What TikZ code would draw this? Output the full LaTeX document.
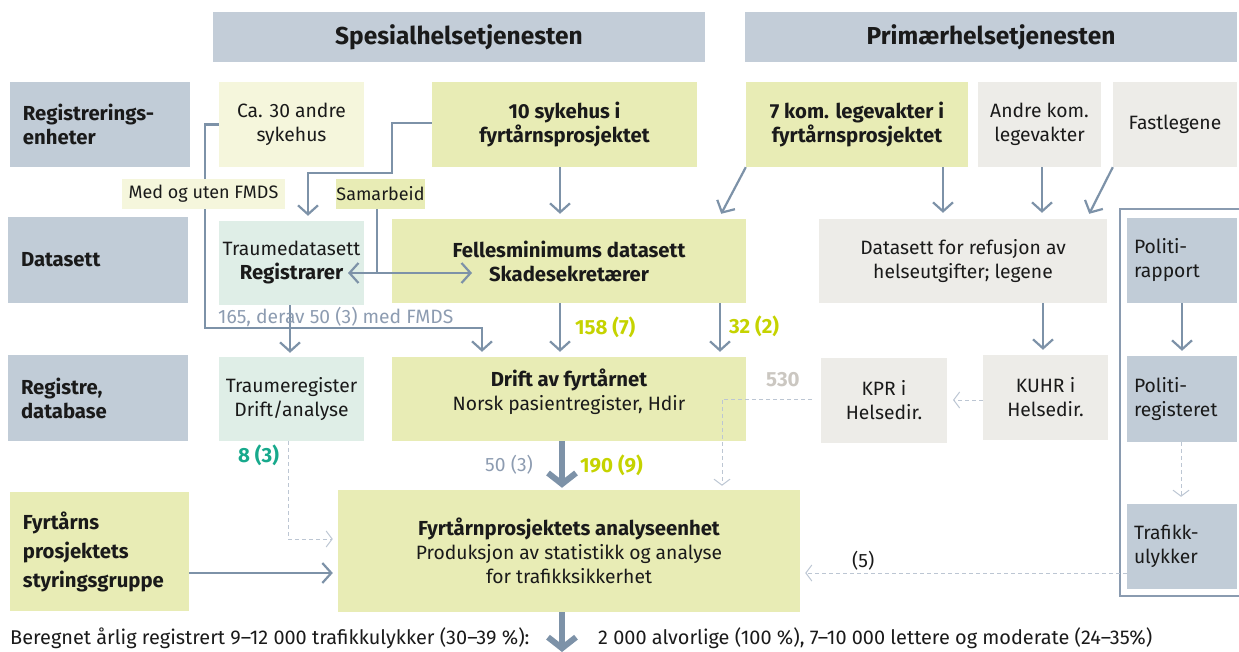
\documentclass[tikz,border=0pt]{standalone}
\usepackage{fontspec}
\setmainfont{Fira Sans}
\usetikzlibrary{arrows.meta,calc}
\definecolor{hdr}{HTML}{C3CDD8}
\definecolor{lab}{HTML}{C1CCD7}
\definecolor{yg}{HTML}{E8ECB5}
\definecolor{ly}{HTML}{F5F6DC}
\definecolor{mint}{HTML}{DFEEE7}
\definecolor{gr}{HTML}{EDECE8}
\definecolor{arc}{HTML}{7D92A8}
\definecolor{frm}{HTML}{8A9BB0}
\definecolor{dsh}{HTML}{BCC6D3}
\definecolor{lime}{HTML}{C5D300}
\definecolor{tealc}{HTML}{17A98C}
\definecolor{lgray}{HTML}{CBC7C1}
\definecolor{gb}{HTML}{8D9CB1}
\definecolor{txt}{HTML}{1A1A1A}
\newcommand\nf{\fontsize{19.3}{24}\selectfont}
\newcommand\btf{\fontsize{19.9}{24}\selectfont}
\newcommand\bff{\fontsize{20.3}{24}\selectfont\bfseries}
\newcommand\smf{\fontsize{18}{20}\selectfont}
\newcommand\bx[7]{\node[box,#6,minimum width={#4-#2},minimum height={#5-#3}] (#1) at ({(#2+#4)/2},{(#3+#5)/2}) {#7};}
\begin{document}
\begin{tikzpicture}[x=1pt,y=-1pt,
  box/.style={rectangle,inner sep=0pt,align=center,font=\nf,text=txt},
  lbox/.style={rectangle,inner ysep=0pt,fill=lab,align=left,font=\bff,text=txt},
  arr/.style={draw=arc,line width=2.2pt,-{Straight Barb[length=9pt,width=20pt]}},
  darr/.style={draw=arc,line width=2.2pt,{Straight Barb[length=9pt,width=20pt]}-{Straight Barb[length=9pt,width=20pt]}},
  line/.style={draw=arc,line width=2.2pt},
  thick arr/.style={draw=arc,line width=6pt,-{Straight Barb[length=11pt,width=28pt]}},
  dash arr/.style={draw=dsh,line width=1pt,dash pattern=on 4pt off 3pt,-{Straight Barb[length=6pt,width=16pt]}},
  num/.style={anchor=west,inner sep=0pt,font=\fontsize{20.5}{24}\selectfont\bfseries}]
\useasboundingbox (0,0) rectangle (1239,652);
% headers
\bx{hs}{213}{12}{705}{62}{fill=hdr,font=\fontsize{24.5}{28}\selectfont\bfseries}{Spesialhelsetjenesten}
\bx{hp}{745}{12}{1237}{62}{fill=hdr,font=\fontsize{24.5}{28}\selectfont\bfseries}{Primærhelsetjenesten}
% row labels
\node[lbox,inner xsep=13pt,text width=154pt,minimum height=85pt] (rl1) at (100,124.5) {Registrerings-\\enheter};
\node[lbox,inner xsep=13pt,text width=154pt,minimum height=86pt] (rl2) at (98,260) {Datasett};
\node[lbox,inner xsep=13pt,text width=154pt,minimum height=86pt] (rl3) at (98,398) {Registre,\\database};
\node[lbox,fill=yg,inner xsep=13pt,text width=153pt,minimum height=119pt,font=\fontsize{20.3}{29}\selectfont\bfseries] (rl4) at (99.5,551.5) {Fyrtårns\\prosjektets\\styringsgruppe};
% row 1
\bx{ca30}{219}{82}{364}{167}{fill=ly}{Ca. 30 andre\\sykehus}
\bx{sh10}{432}{82}{697}{167}{fill=yg,font=\bff}{10 sykehus i\\fyrtårnsprosjektet}
\bx{lv7}{746}{82}{968}{167}{fill=yg,font=\bff}{7 kom. legevakter i\\fyrtårnsprosjektet}
\bx{alv}{978}{82}{1101}{167}{fill=gr}{Andre kom.\\legevakter}
\bx{fl}{1113}{82}{1237}{167}{fill=gr}{Fastlegene}
\bx{sam}{336}{179}{425}{209}{fill=yg,font=\smf}{Samarbeid}
% row 2
\bx{trd}{219}{221}{364}{305}{fill=mint}{Traumedatasett\\{\bff Registrarer}}
\bx{fmd}{392}{219}{746}{303}{fill=yg,font=\bff}{Fellesminimums datasett\\Skadesekretærer}
\bx{ref}{819}{219}{1107}{303}{fill=gr}{Datasett for refusjon av\\helseutgifter; legene}
\node[lbox,font=\nf,inner xsep=7pt,text width=96pt,minimum height=85pt] (pr) at (1182,260.5) {Politi-\\rapport};
% row 3
\bx{tr}{219}{357}{364}{441}{fill=mint}{Traumeregister\\Drift/analyse}
\bx{drift}{392}{357}{746}{441}{fill=yg}{}
\node[box] (driftT) at (569,392) {{\bff Drift av fyrtårnet}\\Norsk pasientregister, Hdir};
\bx{kpr}{821}{358}{947}{443}{fill=gr}{KPR i\\Helsedir.}
\bx{kuhr}{983}{355}{1108}{440}{fill=gr}{KUHR i\\Helsedir.}
\node[lbox,font=\nf,inner xsep=7pt,text width=96pt,minimum height=86pt] (preg) at (1182,399) {Politi-\\registeret};
% row 4
\bx{ae}{338}{490}{800}{612}{fill=yg}{{\bff Fyrtårnprosjektets analyseenhet}\\Produksjon av statistikk og analyse\\for trafikksikkerhet}
\node[lbox,font=\nf,inner xsep=7pt,text width=96pt,minimum height=85pt] (tu) at (1182,546.5) {Trafikk-\\ulykker};
% police frame
\draw[frm,line width=1.2pt] (1245,209) -| (1120,596) -- (1245,596);
% connectors
\coordinate (c1a) at (205,124.5);
\coordinate (c1b) at (205,328);
\coordinate (c1c) at (482,328);
\draw[arr,shorten >=5pt] (ca30.west) -- (c1a) -- (c1b) -- (c1c) -- (c1c |- drift.north);
\coordinate (c2a) at (392,123);
\coordinate (c2b) at (392,173);
\coordinate (c2c) at (308,173);
\draw[arr,shorten >=5pt] (sh10.west |- c2a) -- (c2a) -- (c2b) -- (c2c) -- (c2c |- trd.north);
\draw[arr,shorten >=5pt] (560,0 |- sh10.south) -- (560,0 |- fmd.north);
\draw[arr] (lv7.south west) -- ($(fmd.north east)+(-25,-5)$);
\draw[arr,shorten >=6pt] (943,0 |- lv7.south) -- (943,0 |- ref.north);
\draw[arr,shorten >=6pt] (1042,0 |- alv.south) -- (1042,0 |- ref.north);
\draw[arr] (fl.south west) -- ($(ref.north east)+(-18,-5)$);
\coordinate (sL) at (348,273);
\coordinate (sR) at (472,273);
\draw[line] (377,0 |- sam.south) -- (377,273);
\draw[darr] (sL) -- (sR);
\draw[arr,shorten >=5pt] (560,0 |- fmd.south) -- (560,0 |- drift.north);
\draw[arr,shorten >=5pt] (720,0 |- fmd.south) -- (720,0 |- drift.north);
\draw[arr,shorten >=5pt] (1043,0 |- ref.south) -- (1043,0 |- kuhr.north);
\draw[arr,shorten >=5pt] (1182,0 |- pr.south) -- (1182,0 |- preg.north);
\draw[arr,shorten >=4pt] (290,0 |- trd.south) -- (290,0 |- tr.north);
\draw[dash arr,shorten >=3pt] (983,400) -- (950,400);
\coordinate (kp1) at (722,399);
\draw[dash arr,shorten >=4pt] (812,399) -- (kp1) -- (kp1 |- ae.north);
\draw[dash arr,shorten >=7pt] (1181,0 |- preg.south) -- (1181,0 |- tu.north);
\draw[dash arr,shorten >=5pt] (tu.west |- 0,573) -- (ae.east |- 0,573);
\coordinate (tr1) at (288,539);
\draw[dash arr,shorten >=5pt] (288,0 |- tr.south) -- (tr1) -- (tr1 -| ae.west);
\draw[thick arr,shorten >=2pt] (562,0 |- drift.south) -- (562,0 |- ae.north);
\draw[arr,shorten >=5pt] (rl4.east |- 0,573) -- (ae.west |- 0,573);
\coordinate (bot) at (562,652);
\draw[thick arr] (562,0 |- ae.south) -- (bot);
% label on top of line
\bx{mof}{122}{179}{285}{209}{fill=ly,font=\smf}{Med og uten FMDS}
% numbers
\node[anchor=west,inner sep=0pt,font=\nf,text=gb] (n165) at (218,317) {165, derav 50 (3) med FMDS};
\node[num,text=lime] (n158) at (575,327) {158 (7)};
\node[num,text=lime] (n32) at (729,326) {32 (2)};
\node[num,text=lgray] (n530) at (766,380) {530};
\node[num,text=tealc] (n8) at (238,455) {8 (3)};
\node[anchor=west,inner sep=0pt,font=\nf,text=gb] (n50) at (485,465) {50 (3)};
\node[num,text=lime] (n190) at (580,465) {190 (9)};
\node[anchor=west,inner sep=0pt,font=\nf,text=txt] (n5) at (852,561) {(5)};
% bottom text
\node[anchor=west,inner sep=0pt,font=\btf,text=txt] (bt1) at (10,638) {Beregnet årlig registrert 9–12 000 trafikkulykker (30–39 \%):};
\node[anchor=west,inner sep=0pt,font=\btf,text=txt] (bt2) at (598,638) {2 000 alvorlige (100 \%), 7–10 000 lettere og moderate (24–35\%)};
\end{tikzpicture}
\end{document}
